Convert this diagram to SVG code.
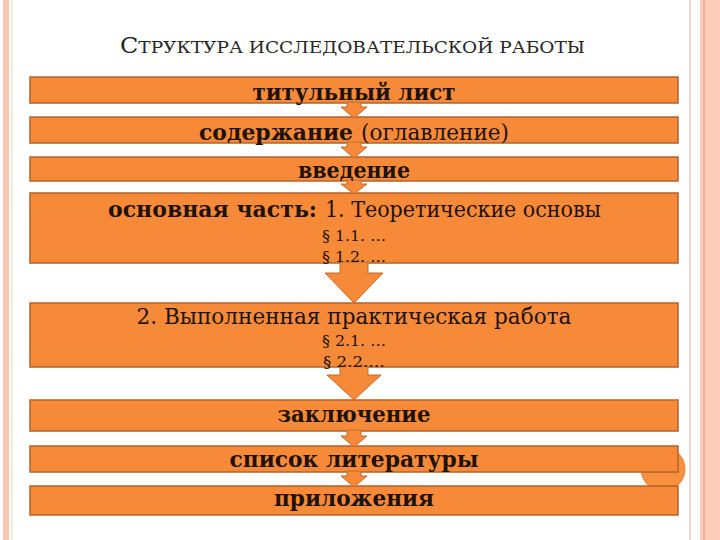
<svg xmlns="http://www.w3.org/2000/svg" width="720" height="540" viewBox="0 0 720 540">
<style>
.box{fill:#F78A38;stroke:#B4632A;stroke-width:1.5}
.arr{fill:#F78A38;stroke:#C06C2C;stroke-width:1}
.t{font-family:"DejaVu Serif","Liberation Serif",serif;fill:#1E1209;text-anchor:middle}
.b{font-weight:bold}
.sm{font-family:"DejaVu Serif","Liberation Serif",serif;fill:#1E1209;text-anchor:middle;font-size:15px}
</style>
<rect x="0" y="0" width="720" height="540" fill="#FFFFFF"/>
<g id="frame">
<rect x="3" y="0" width="6" height="540" fill="#FBC4AC"/>
<rect x="11" y="0" width="1.5" height="540" fill="#F3E2D8"/>
<rect x="689" y="0" width="2" height="540" fill="#EED6CA"/>
<rect x="700" y="0" width="20" height="540" fill="#FCCDBA"/>
<rect x="703" y="0" width="2" height="540" fill="#F6AE95"/>
<circle cx="663" cy="469" r="22" fill="#F7913F" stroke="#E9823A" stroke-width="1"/>
</g>
<g id="title">
<text x="120" y="53" font-family="'DejaVu Serif','Liberation Serif',serif" fill="#262626" textLength="465" lengthAdjust="spacingAndGlyphs"><tspan font-size="22">С</tspan><tspan font-size="17">ТРУКТУРА ИССЛЕДОВАТЕЛЬСКОЙ РАБОТЫ</tspan></text>
</g>
<g id="n1"><rect class="box" x="30" y="77" width="648" height="26"/></g>
<g id="n2"><rect class="box" x="30" y="117" width="648" height="26"/></g>
<g id="n3"><rect class="box" x="30" y="157" width="648" height="24"/></g>
<g id="n4"><rect class="box" x="30" y="193" width="648" height="70"/></g>
<g id="n5"><rect class="box" x="30" y="303" width="648" height="64"/></g>
<g id="n6"><rect class="box" x="30" y="400" width="648" height="31"/></g>
<g id="n7"><rect class="box" x="30" y="446" width="648" height="26"/></g>
<g id="n8"><rect class="box" x="30" y="486" width="648" height="29"/></g>
<g id="connectors">
<path class="arr" d="M347,102 H361 V107 H367 L354,118 L341,107 H347 Z"/>
<path class="arr" d="M347,142 H361 V147 H367 L354,158 L341,147 H347 Z"/>
<path class="arr" d="M347,180 H361 V184 H367 L354,194 L341,184 H347 Z"/>
<path class="arr" d="M340,262 H368 V273 H383 L354,303 L325,273 H340 Z"/>
<path class="arr" d="M340,366 H368 V375 H381 L354,400 L327,375 H340 Z"/>
<path class="arr" d="M347,430 H361 V436 H367 L354,447 L341,436 H347 Z"/>
<path class="arr" d="M347,471 H361 V476 H367 L354,487 L341,476 H347 Z"/>
</g>
<g id="labels">
<text class="t b" x="354" y="100" font-size="23" textLength="203" lengthAdjust="spacingAndGlyphs">титульный лист</text>
<text y="140" font-family="'DejaVu Serif','Liberation Serif',serif" fill="#1E1209" font-size="23"><tspan x="199" font-weight="bold" textLength="154" lengthAdjust="spacingAndGlyphs">содержание</tspan><tspan x="361" textLength="148" lengthAdjust="spacingAndGlyphs">(оглавление)</tspan></text>
<text class="t b" x="354" y="178" font-size="23" textLength="112" lengthAdjust="spacingAndGlyphs">введение</text>
<text y="217" font-family="'DejaVu Serif','Liberation Serif',serif" fill="#1E1209" font-size="23"><tspan x="108" font-weight="bold" textLength="209" lengthAdjust="spacingAndGlyphs">основная часть:</tspan><tspan x="325" textLength="276" lengthAdjust="spacingAndGlyphs">1. Теоретические основы</tspan></text>
<text class="sm" x="354" y="241" textLength="64" lengthAdjust="spacingAndGlyphs">§ 1.1. …</text>
<text class="sm" x="354" y="262" textLength="64" lengthAdjust="spacingAndGlyphs">§ 1.2. …</text>
<text class="t" x="354" y="324" font-size="23" textLength="435" lengthAdjust="spacingAndGlyphs">2. Выполненная практическая работа</text>
<text class="sm" x="354" y="346" textLength="64" lengthAdjust="spacingAndGlyphs">§ 2.1. …</text>
<text class="sm" x="354" y="367" textLength="62" lengthAdjust="spacingAndGlyphs">§ 2.2.…</text>
<text class="t b" x="354" y="422" font-size="23" textLength="153" lengthAdjust="spacingAndGlyphs">заключение</text>
<text class="t b" x="354" y="467" font-size="23" textLength="249" lengthAdjust="spacingAndGlyphs">список литературы</text>
<text class="t b" x="354" y="506" font-size="23" textLength="160" lengthAdjust="spacingAndGlyphs">приложения</text>
</g>
</svg>
